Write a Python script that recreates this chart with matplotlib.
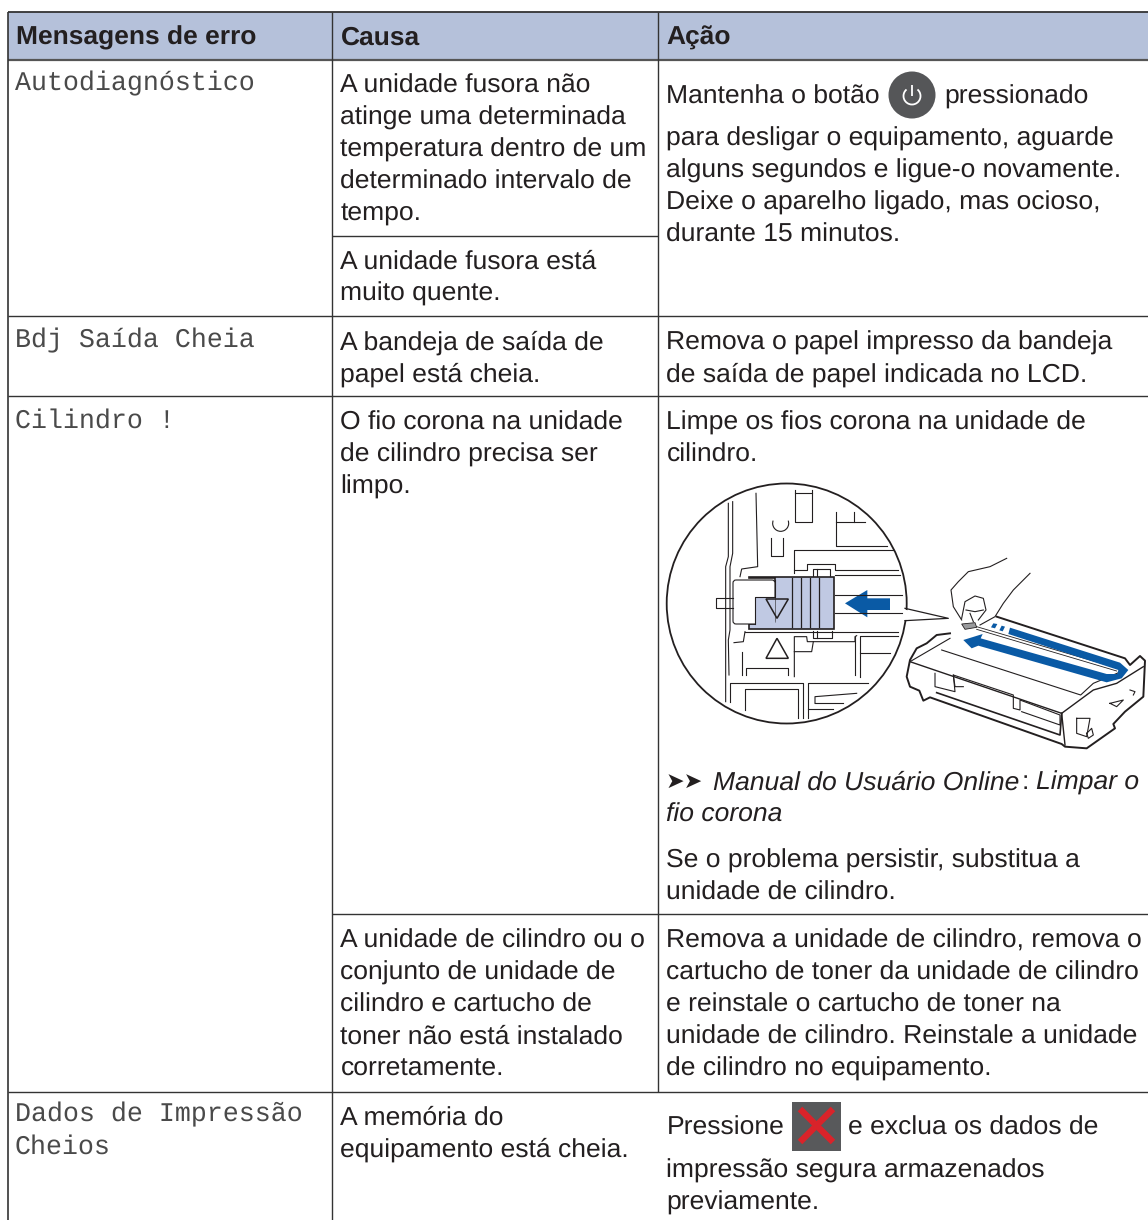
import matplotlib
matplotlib.use("Agg")
import matplotlib.pyplot as plt
from matplotlib.patches import Circle, Polygon, Rectangle, Arc, FancyBboxPatch

plt.rcParams["text.hinting"] = "no_hinting"

W, H = 1148, 1220
SANS = "Liberation Sans"
MONO = "Liberation Mono"
DARK = "#231f20"
HEAD_BG = "#b5c1da"
BLUE = "#0a5aa5"
TAB = "#c0c9e3"

headers = ["Mensagens de erro", "Causa", "Ação"]
messages = [["Autodiagnóstico"], ["Bdj Saída Cheia"], ["Cilindro !"],
            ["Dados de Impressão", "Cheios"]]
causes = [
    ["A unidade fusora não", "atinge uma determinada", "temperatura dentro de um",
     "determinado intervalo de", "tempo."],
    ["A unidade fusora está", "muito quente."],
    ["A bandeja de saída de", "papel está cheia."],
    ["O fio corona na unidade", "de cilindro precisa ser", "limpo."],
    ["A unidade de cilindro ou o", "conjunto de unidade de", "cilindro e cartucho de",
     "toner não está instalado", "corretamente."],
    ["A memória do", "equipamento está cheia."],
]
actions = [
    ["para desligar o equipamento, aguarde", "alguns segundos e ligue-o novamente.",
     "Deixe o aparelho ligado, mas ocioso,", "durante 15 minutos."],
    ["Remova o papel impresso da bandeja", "de saída de papel indicada no LCD."],
    ["Limpe os fios corona na unidade de", "cilindro."],
    ["Se o problema persistir, substitua a", "unidade de cilindro."],
    ["Remova a unidade de cilindro, remova o", "cartucho de toner da unidade de cilindro",
     "e reinstale o cartucho de toner na", "unidade de cilindro. Reinstale a unidade",
     "de cilindro no equipamento."],
    ["impressão segura armazenados", "previamente."],
]

fig = plt.figure(figsize=(W / 100, H / 100), dpi=100)
ax = fig.add_axes([0, 0, 1, 1])
ax.set_xlim(0, W)
ax.set_ylim(H, 0)
ax.axis("off")

COL = [7.5, 332.0, 657.5]
LINE = 32


def put(x, y, s, fam=SANS, size=19.05, color=DARK, **kw):
    return ax.text(x, y + 0.4, s, family=fam, fontsize=size, color=color, va="baseline", **kw)


def block(x, y, lines, **kw):
    for i, s in enumerate(lines):
        put(x, y + i * LINE, s, **kw)


def rule(x0, x1, y0, y1, lw=1.0, c="#333333"):
    ax.plot([x0, x1], [y0, y1], color=c, lw=lw, solid_capstyle="butt")


# header
ax.add_patch(Rectangle((COL[0], 12), W - COL[0], 48, fc=HEAD_BG, ec="none"))
put(16, 44, headers[0], weight="bold", size=19.0)
put(340.5, 44, headers[1], weight="bold", size=19.0)
put(666.5, 44, headers[2], weight="bold", size=19.0)

# grid
rule(COL[0], W, 12, 12, 1.3)
rule(COL[0], W, 60, 60, 1.6, "#555555")
rule(COL[0], W, 316, 316)
rule(COL[0], W, 396, 396)
rule(COL[0], W, 1092, 1092)
rule(COL[1], COL[2], 236, 236)
rule(COL[1], W, 914, 914)
rule(COL[0], COL[0], 12, H, 1.2)
rule(COL[1], COL[1], 12, H)
rule(COL[2], COL[2], 12, 1092)

# first column, monospaced and thin in the reference
mono = dict(fam=MONO, size=19.2, color="#4a4a4a")
put(15, 90, messages[0][0], **mono)
put(15, 347, messages[1][0], **mono)
put(15, 427, messages[2][0], **mono)
put(15, 1121, messages[3][0], **mono)
put(15, 1153, messages[3][1], **mono)

# second column
for y, lines in zip([92, 268, 349, 429, 947, 1124], causes):
    block(340.5, y, lines)

# third column
put(666.5, 103, "Mantenha o botão")
ax.add_patch(Circle((912, 95), 23.5, fc="#555658", ec="none"))
ax.add_patch(Arc((912, 96), 17, 17, theta1=-50, theta2=230, color="white", lw=1.3))
rule(912, 912, 85, 96, 1.3, "white")
put(944, 103, "pressionado")
block(666.5, 145, actions[0])
block(666.5, 349, actions[1])
block(666.5, 429, actions[2])
put(666, 788, "➤➤", fam="DejaVu Sans", size=16)
put(713, 789, "Manual do Usuário Online", style="italic")
put(1022, 789, ":")
put(1036, 789, "Limpar o", style="italic")
put(666.5, 821, "fio corona", style="italic")
block(666.5, 867, actions[3])
block(666.5, 947, actions[4])
put(666.5, 1134, "Pressione")
ax.add_patch(Rectangle((792, 1102), 49, 49, fc="#58595b", ec="none"))
ax.plot([800, 833], [1109, 1142], color="#d9232a", lw=4.6, solid_capstyle="butt")
ax.plot([833, 800], [1109, 1142], color="#d9232a", lw=4.6, solid_capstyle="butt")
put(848, 1134, "e exclua os dados de")
block(666.5, 1177, actions[5])


# illustration: coordinates are in the 3x zoom of the crop starting at (660, 470)
def pt(p):
    return [(660 + a / 3, 470 + b / 3) for a, b in p]


lens = Circle((786.7, 603.5), 120, fc="white", ec="none", transform=ax.transData)
ax.add_patch(lens)


def inner(p, lw=0.8, c=DARK):
    xs, ys = zip(*pt(p))
    ln, = ax.plot(xs, ys, color=c, lw=lw, solid_joinstyle="round")
    ln.set_clip_path(lens)


for p in [
    [(205, 100), (205, 260), (197, 290), (197, 695)],
    [(218, 95), (218, 250), (210, 290), (210, 480), (205, 510), (207, 615)],
    [(288, 70), (293, 290), (245, 297), (240, 320)],
    [(405, 60), (405, 155), (455, 155), (455, 60)],
    [(405, 70), (455, 70)],
    [(527, 125), (527, 228), (680, 228)],
    [(527, 155), (615, 155)],
    [(583, 125), (583, 155)],
    [(332, 205), (332, 258), (370, 258), (370, 205)],
    [(403, 310), (403, 240), (700, 240)],
    [(403, 300), (440, 300), (440, 283), (525, 283), (525, 300), (715, 300)],
    [(525, 315), (720, 315)],
    [(525, 375), (725, 375)],
    [(525, 428), (725, 428)],
    [(255, 485), (715, 485)],
    [(255, 485), (250, 515), (222, 518)],
    [(245, 545), (245, 615)],
    [(258, 615), (258, 595), (385, 595), (385, 615)],
    [(403, 620), (403, 500), (440, 500), (442, 515), (585, 515), (585, 500), (590, 497)],
    [(403, 545), (455, 545), (460, 515)],
    [(585, 497), (585, 615)],
    [(600, 620), (600, 497), (715, 497)],
    [(600, 550), (690, 550)],
    [(210, 695), (210, 640), (428, 640), (428, 745)],
    [(256, 720), (256, 657), (415, 657), (415, 745)],
    [(443, 745), (443, 640), (625, 640)],
    [(465, 700), (465, 680), (590, 670)],
    [(465, 700), (550, 700)],
    [(443, 718), (520, 718)],
    [(218, 413), (168, 413), (168, 383), (218, 383)],
    [(458, 318), (458, 297), (510, 297), (510, 318)],
    [(472, 297), (472, 318)],
    [(458, 482), (458, 503), (515, 503), (515, 482)],
    [(472, 482), (472, 503)],
]:
    inner(p)
ax.add_patch(Arc((660 + 362 / 3, 470 + 160 / 3), 16, 16, theta1=-20, theta2=200,
                 color=DARK, lw=0.8))

ax.add_patch(Polygon(pt([(268, 320), (522, 320), (522, 478), (268, 478), (268, 462),
                         (285, 462), (285, 382), (345, 382), (345, 325), (268, 325)]),
                     fc=TAB, ec=DARK, lw=1.2))
ax.add_patch(FancyBboxPatch((733, 580), 42, 44, boxstyle="round,pad=0,rounding_size=3",
                            fc="white", ec=DARK, lw=0.8))
ax.add_patch(Rectangle((755.3, 597.5), 20, 28, fc=TAB, ec="none"))
inner([(285, 462), (285, 382), (345, 382), (345, 330)], 0.8)
for zx in [395, 423, 450, 477]:
    inner([(zx, 325), (zx, 472)], 0.9)
for p in [[(318, 387), (385, 387), (351, 445)], [(318, 565), (385, 565), (351, 505)]]:
    ax.add_patch(Polygon(pt(p), fc="none", ec=DARK, lw=1.1))
ax.add_patch(Polygon(pt([(555, 400), (622, 360), (622, 385), (690, 385), (690, 420),
                         (622, 420), (622, 442)]), fc=BLUE, ec="none"))

ax.add_patch(Circle((786.7, 603.5), 120, fc="none", ec=DARK, lw=1.3))
ax.add_patch(Polygon(pt([(730, 418), (865, 446), (730, 450)]), fc="white", ec="none", zorder=3))
xs, ys = zip(*pt([(735, 415), (865, 445), (735, 452)]))
ax.plot(xs, ys, color=DARK, lw=0.9, zorder=4)

drum_lines = [
    ([(870, 490), (830, 495), (800, 520), (770, 535), (750, 570), (740, 620), (750, 650),
      (778, 662), (790, 692), (810, 682), (1205, 822), (1215, 830), (1280, 835),
      (1365, 775), (1360, 762), (1395, 725), (1450, 680), (1455, 572), (1440, 558),
      (1410, 585), (1395, 565), (1010, 440)], 1.4),
    ([(750, 575), (870, 505)], 0.8),
    ([(750, 575), (1205, 730), (1215, 825)], 1.0),
    ([(845, 540), (1262, 675), (1300, 640), (1395, 600)], 0.8),
    ([(1205, 730), (1300, 660), (1370, 640), (1450, 590)], 1.0),
    ([(830, 668), (1200, 795), (1205, 730)], 1.2),
    ([(825, 610), (825, 650), (885, 665), (880, 615), (1060, 675), (1060, 715), (1080, 720),
      (1080, 690), (1200, 735), (1200, 765), (1085, 725)], 0.8),
    ([(880, 615), (885, 650), (910, 650)], 0.8),
    ([(950, 470), (1375, 595)], 0.6),
    ([(950, 478), (1370, 603)], 0.6),
    ([(1250, 745), (1290, 745), (1280, 800), (1250, 790), (1250, 745)], 0.8),
    ([(1280, 790), (1295, 775), (1300, 795), (1285, 805), (1280, 790)], 0.8),
    ([(1350, 700), (1390, 690), (1370, 710), (1350, 700)], 0.8),
    ([(1410, 660), (1425, 665), (1420, 675)], 0.8),
]
for p, lw in drum_lines:
    xs, ys = zip(*pt(p))
    ax.plot(xs, ys, color=DARK, lw=lw, solid_joinstyle="round")

hand = [
    [(1040, 265), (990, 290), (925, 305), (895, 335), (873, 360), (880, 410), (905, 450)],
    [(1110, 310), (1060, 360), (1030, 400), (1005, 440), (960, 465)],
    [(905, 445), (915, 395), (945, 378), (970, 385), (978, 420), (955, 450)],
    [(918, 420), (945, 425), (970, 420)],
    [(930, 430), (940, 455)],
]
for p in hand:
    xs, ys = zip(*pt(p))
    ax.plot(xs, ys, color=DARK, lw=0.8, solid_joinstyle="round")
ax.add_patch(Polygon(pt([(905, 462), (945, 458), (950, 472), (915, 478)]),
                     fc="#9a9b9d", ec=DARK, lw=0.6))
ax.add_patch(Polygon(pt([(1050, 473), (1380, 578), (1405, 600), (1385, 625), (1340, 637),
                         (955, 527), (935, 535), (910, 510), (968, 492), (962, 505),
                         (1340, 612), (1372, 612), (1375, 600), (1045, 492)]),
                     fc=BLUE, ec="none", zorder=3))
for p in [[(1000, 460), (1012, 462), (1005, 475), (993, 472)],
          [(1025, 467), (1035, 470), (1028, 484), (1018, 481)]]:
    ax.add_patch(Polygon(pt(p), fc=BLUE, ec="none", zorder=3))

fig.savefig("out.png", dpi=100)
